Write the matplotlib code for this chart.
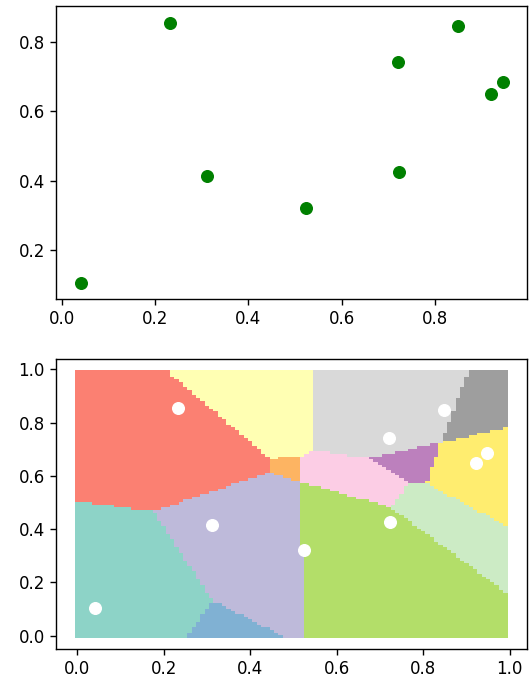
import numpy as np
import matplotlib
matplotlib.use("Agg")
import matplotlib.pyplot as plt
from matplotlib.path import Path

plt.rcParams['font.size'] = 12
plt.rcParams['xtick.major.size'] = 4.4
plt.rcParams['ytick.major.size'] = 4.4
plt.rcParams['xtick.major.width'] = 1.0
plt.rcParams['ytick.major.width'] = 1.0
plt.rcParams['axes.linewidth'] = 1.0

# sample points
pts_x = [0.042, 0.232, 0.312, 0.524, 0.721, 0.723, 0.849, 0.921, 0.947]
pts_y = [0.105, 0.854, 0.415, 0.321, 0.742, 0.426, 0.848, 0.650, 0.686]

# region outlines (data coords)
region_polys = [
    [(-0.02, 1.02), (0.19, 1.02), (0.445, 0.669), (0.445, 0.617), (0.176, 0.47), (-0.02, 0.512)],
    [(0.19, 1.02), (0.541, 1.02), (0.541, 0.70), (0.515, 0.672), (0.445, 0.669)],
    [(0.445, 0.669), (0.515, 0.672), (0.515, 0.581), (0.445, 0.617)],
    [(0.445, 0.617), (0.515, 0.581), (0.527, -0.02), (0.502, -0.02), (0.313, 0.135), (0.176, 0.47)],
    [(-0.02, 0.512), (0.176, 0.47), (0.313, 0.135), (0.246, -0.02), (-0.02, -0.02)],
    [(0.313, 0.135), (0.502, -0.02), (0.246, -0.02)],
    [(0.541, 1.02), (0.910, 1.02), (0.842, 0.729), (0.675, 0.669), (0.541, 0.70)],
    [(0.910, 1.02), (1.02, 1.02), (1.02, 0.793), (0.842, 0.729)],
    [(0.515, 0.672), (0.541, 0.70), (0.675, 0.669), (0.768, 0.579), (0.725, 0.485), (0.515, 0.581)],
    [(0.675, 0.669), (0.842, 0.729), (0.807, 0.575), (0.768, 0.579)],
    [(0.842, 0.729), (1.02, 0.793), (1.02, 0.393), (0.807, 0.575)],
    [(0.768, 0.579), (0.807, 0.575), (1.02, 0.393), (1.02, 0.13), (0.725, 0.485)],
    [(0.515, 0.581), (0.725, 0.485), (1.02, 0.13), (1.02, -0.02), (0.527, -0.02)],
]
region_colors = ['#fb8072', '#ffffb3', '#fdb462', '#bebada', '#8dd3c7', '#80b1d3',
                 '#d9d9d9', '#9e9e9e', '#fccde5', '#bc80bd', '#ffed6f', '#ccebc5', '#b3de69']

# 100 x 100 grid
g = np.arange(100) / 100
gx, gy = np.meshgrid(g, g)
grid = np.column_stack([gx.ravel(), gy.ravel()])
labels = np.full(len(grid), -1)
for i, poly in enumerate(region_polys):
    inside = Path(poly).contains_points(grid, radius=1e-6)
    labels[(labels == -1) & inside] = i
for i, poly in enumerate(region_polys):
    inside = Path(poly).contains_points(grid, radius=-1e-3)
    labels[(labels == -1) & inside] = i
ok = labels >= 0
cell_colors = [region_colors[k] for k in labels[ok]]

fig = plt.figure(figsize=(5.31, 6.82), dpi=100)
ax1 = fig.add_axes([0.105, 0.5616, 0.887, 0.4294])
ax2 = fig.add_axes([0.105, 0.0484, 0.887, 0.4256])

ax1.scatter(pts_x, pts_y, c='green', s=70)
ax1.set_xlim(-0.013, 0.997)
ax1.set_ylim(0.059, 0.904)
ax1.set_xticks([0.0, 0.2, 0.4, 0.6, 0.8])
ax1.set_yticks([0.2, 0.4, 0.6, 0.8])

ax2.scatter(grid[ok, 0], grid[ok, 1], c=cell_colors, marker='s', s=10, linewidths=0)
ax2.scatter(pts_x, pts_y, c='white', s=70)
ax2.set_xticks([0.0, 0.2, 0.4, 0.6, 0.8, 1.0])
ax2.set_yticks([0.0, 0.2, 0.4, 0.6, 0.8, 1.0])

fig.savefig('out.png', dpi=100)
